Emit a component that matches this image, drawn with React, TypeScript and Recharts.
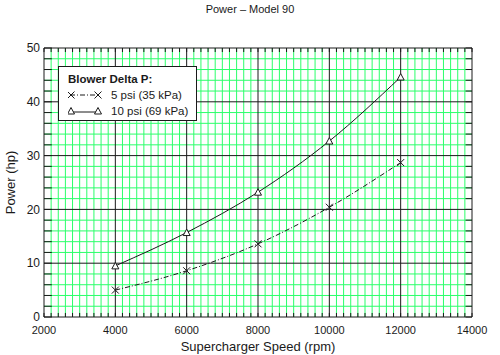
import { LineChart, Line, XAxis, YAxis, ReferenceLine } from 'recharts';

const speeds = [4000, 6000, 8000, 10000, 12000];
const power5psi = [5.0, 8.6, 13.6, 20.4, 28.7];
const power10psi = [9.5, 15.7, 23.2, 32.7, 44.6];

const xTicks = [2000, 4000, 6000, 8000, 10000, 12000, 14000];
const yTicks = [0, 10, 20, 30, 40, 50];
// minor grid: every 200 rpm and every 2 hp
const xMinor = Array.from({ length: 61 }, (_, i) => 2000 + i * 200);
const yMinor = Array.from({ length: 26 }, (_, i) => i * 2);

const data = speeds.map((s, i) => ({ speed: s, p5: power5psi[i], p10: power10psi[i] }));

const FONT = '"Liberation Sans", Arial, sans-serif';
const INK = '#1a1a1a';
const GREEN = '#2bff6a';

const CrossDot = (props: any) => {
  const { cx, cy } = props;
  if (cx == null || cy == null) return null;
  const r = 3.5;
  return (
    <path
      d={`M${cx - r},${cy - r}L${cx + r},${cy + r}M${cx - r},${cy + r}L${cx + r},${cy - r}`}
      stroke={INK}
      strokeWidth={1}
      fill="none"
    />
  );
};

const TriDot = (props: any) => {
  const { cx, cy } = props;
  if (cx == null || cy == null) return null;
  const r = 3.5;
  return (
    <path
      d={`M${cx},${cy - r}L${cx + r},${cy + r - 0.5}L${cx - r},${cy + r - 0.5}Z`}
      stroke={INK}
      strokeWidth={1}
      fill="#fff"
    />
  );
};

const YTitle = (props: any) => {
  const vb = props.viewBox || { x: 0, y: 0, width: 0, height: 0 };
  const cx = vb.x + 10;
  const cy = vb.y + vb.height / 2;
  return (
    <text x={cx} y={cy} transform={`rotate(-90 ${cx} ${cy})`} textAnchor="middle" dominantBaseline="central"
      fontSize={13} fontFamily={FONT} fill={INK}>
      Power (hp)
    </text>
  );
};

function ChartLegend() {
  return (
    <div
      style={{
        position: 'absolute',
        left: 58,
        top: 66,
        width: 139,
        height: 55,
        boxSizing: 'border-box',
        background: '#fff',
        border: `1px solid ${INK}`,
        fontFamily: FONT,
        fontSize: 11.5,
        color: INK,
        padding: '4px 0 0 9px',
        lineHeight: '16px',
      }}
    >
      <div style={{ fontWeight: 'bold' }}>Blower Delta P:</div>
      <div style={{ display: 'flex', alignItems: 'center' }}>
        <svg width={34} height={10}>
          <line x1={2} y1={5} x2={31} y2={5} stroke={INK} strokeDasharray="5 2 1 2" />
          <CrossDot cx={3} cy={5} />
          <CrossDot cx={30} cy={5} />
        </svg>
        <span style={{ marginLeft: 9 }}>5 psi (35 kPa)</span>
      </div>
      <div style={{ display: 'flex', alignItems: 'center' }}>
        <svg width={34} height={10}>
          <line x1={2} y1={6} x2={31} y2={6} stroke={INK} />
          <TriDot cx={3} cy={5} />
          <TriDot cx={30} cy={5} />
        </svg>
        <span style={{ marginLeft: 9 }}>10 psi (69 kPa)</span>
      </div>
    </div>
  );
}

export default function App() {
  return (
    <div style={{ position: 'absolute', left: 0, top: 0, width: 500, height: 355, background: '#fff' }}>
      <div
        style={{
          position: 'absolute',
          top: 3,
          width: 500,
          textAlign: 'center',
          fontFamily: FONT,
          fontSize: 11,
          color: INK,
        }}
      >
        Power – Model 90
      </div>
      <LineChart width={500} height={355} data={data} margin={{ top: 48, right: 28, bottom: 0, left: 0 }}>
        <XAxis
          dataKey="speed"
          type="number"
          domain={[2000, 14000]}
          ticks={xTicks}
          axisLine={false}
          tickLine={false}
          tickSize={2}
          tickMargin={7}
          height={38}
          tick={{ fontSize: 11, fontFamily: FONT, fill: INK }}
          label={{ value: 'Supercharger Speed (rpm)', position: 'insideBottom', offset: 4, fontSize: 13, fontFamily: FONT, fill: INK }}
        />
        <YAxis
          type="number"
          domain={[0, 50]}
          ticks={yTicks}
          axisLine={false}
          tickLine={false}
          tickSize={2}
          tickMargin={2}
          width={44}
          tick={{ fontSize: 12, fontFamily: FONT, fill: INK }}
          label={<YTitle />}
        />
        {xMinor.filter((v) => !xTicks.includes(v)).map((v) => (
          <ReferenceLine key={`gx${v}`} x={v} stroke={GREEN} />
        ))}
        {yMinor.filter((v) => !yTicks.includes(v)).map((v) => (
          <ReferenceLine key={`gy${v}`} y={v} stroke={GREEN} />
        ))}
        {xTicks.map((v) => (
          <ReferenceLine key={`mx${v}`} x={v} stroke={INK} />
        ))}
        {yTicks.map((v) => (
          <ReferenceLine key={`my${v}`} y={v} stroke={INK} />
        ))}
        {xMinor.map((v) => (
          <ReferenceLine key={`b${v}`} segment={[{ x: v, y: 0 }, { x: v, y: 0.75 }]} stroke={INK} ifOverflow="visible" />
        ))}
        {xMinor.map((v) => (
          <ReferenceLine key={`t${v}`} segment={[{ x: v, y: 50 }, { x: v, y: 49.25 }]} stroke={INK} ifOverflow="visible" />
        ))}
        {yMinor.map((v) => (
          <ReferenceLine key={`l${v}`} segment={[{ x: 2000, y: v }, { x: 2220, y: v }]} stroke={INK} ifOverflow="visible" />
        ))}
        {yMinor.map((v) => (
          <ReferenceLine key={`r${v}`} segment={[{ x: 14000, y: v }, { x: 13820, y: v }]} stroke={INK} ifOverflow="visible" />
        ))}
        <Line
          type="monotone"
          dataKey="p5"
          stroke={INK}
          strokeWidth={1}
          strokeDasharray="5 2 1 2"
          dot={<CrossDot />}
          activeDot={false}
          isAnimationActive={false}
        />
        <Line
          type="monotone"
          dataKey="p10"
          stroke={INK}
          strokeWidth={1}
          dot={<TriDot />}
          activeDot={false}
          isAnimationActive={false}
        />
      </LineChart>
      <ChartLegend />
    </div>
  );
}
